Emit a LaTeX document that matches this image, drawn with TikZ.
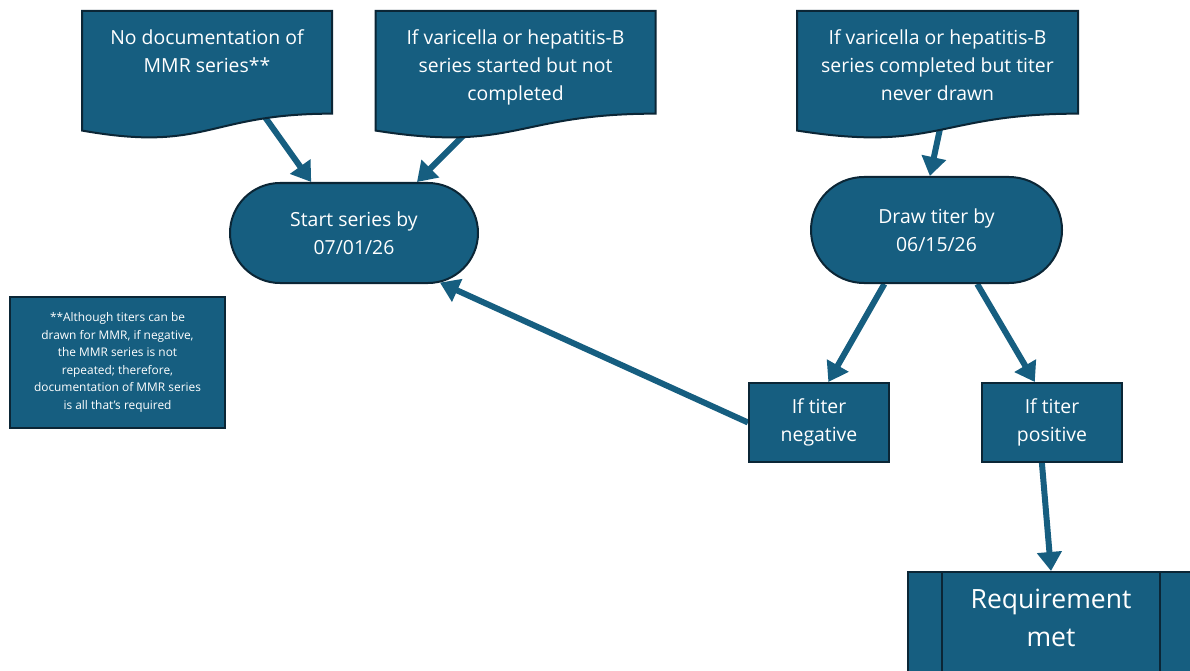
\documentclass[tikz,border=0pt]{standalone}
\usepackage{fontspec}
\setmainfont{Open Sans}
\usetikzlibrary{arrows.meta,shapes.misc,calc,backgrounds}
\definecolor{flowblue}{RGB}{22,94,128}
\definecolor{flowedge}{RGB}{11,38,54}
\begin{document}
\begin{tikzpicture}[x=1pt, y=-1pt,
		box/.style={draw=flowedge, line width=2pt, fill=flowblue, text=white, align=center, inner sep=0pt, font=\fontsize{19.4}{27.8}\selectfont},
		docnode/.style={box, draw=none, fill=none, minimum height=126pt},
		pill/.style={box, rounded rectangle},
		flow/.style={flowblue, line width=6pt, -{Triangle[width=24pt,length=19pt]}}]
	\useasboundingbox (0,0) rectangle (1190,671);
	\clip (0,0) rectangle (1190,671);
	% sources
	\node[docnode, minimum width=248pt] (doc1) at (207,75) {\parbox[c][90pt][t]{244pt}{\centering No documentation of\\MMR series**}};
	\node[docnode, minimum width=278pt] (doc2) at (515.5,75) {\parbox[c][90pt][t]{274pt}{\centering If varicella or hepatitis-B\\series started but not\\completed}};
	\node[docnode, minimum width=279pt] (doc3) at (937.5,75) {\parbox[c][90pt][t]{274pt}{\centering If varicella or hepatitis-B\\series completed but titer\\never drawn}};
	% steps
	\node[pill, minimum width=248pt, minimum height=100pt] (term1) at (354,233) {Start series by\\07/01/26};
	\node[pill, minimum width=251pt, minimum height=106pt] (term2) at (936.5,230) {Draw titer by\\06/15/26};
	\node[box, minimum width=140pt, minimum height=79pt] (neg) at (819,422.5) {If titer\\negative};
	\node[box, minimum width=140pt, minimum height=79pt] (pos) at (1052,422.5) {If titer\\positive};
	\node[box, minimum width=286pt, minimum height=130pt, anchor=north, font=\fontsize{26.5}{38}\selectfont] (req) at (1051,571) {\parbox[c][96pt][t]{200pt}{\centering Requirement\\met}};
	\draw[flowedge, line width=2pt] ([xshift=35pt]req.north west) -- ([xshift=35pt]req.south west)
		([xshift=-35pt]req.north east) -- ([xshift=-35pt]req.south east);
	\node[box, minimum width=215pt, minimum height=131pt, font=\fontsize{11.9}{17.6}\selectfont] (note) at (117.5,362.5) {**Although titers can be\\drawn for MMR, if negative,\\the MMR series is not\\repeated; therefore,\\documentation of MMR series\\is all that’s required};
	\begin{scope}[on background layer]
		\fill[white] (0,0) rectangle (1190,671);
		\draw[flow] ([xshift=28pt]doc1.center) -- (term1.130);
		\draw[flow] ([xshift=8pt]doc2.center) -- (term1.39);
		\draw[flow] ([xshift=14pt]doc3.center) -- (term2.97);
		\draw[flow] (term2.226) -- (neg.77);
		\draw[flow] (term2.-53) -- (pos.113);
		\draw[flow] (neg.west) -- (term1.-30);
		\draw[flow] (pos.256) -- (req.north);
		% document outlines, wavy bottom
		\foreach \d in {doc1,doc2,doc3}
			\draw[box] (\d.north west) -- (\d.north east) -- ($(\d.north east)!0.802!(\d.south east)$)
				.. controls ($(\d.north)!0.802!(\d.south)$) and ($(\d.north)!1.1075!(\d.south)$) .. ($(\d.north west)!0.934!(\d.south west)$) -- cycle;
	\end{scope}
\end{tikzpicture}
\end{document}
